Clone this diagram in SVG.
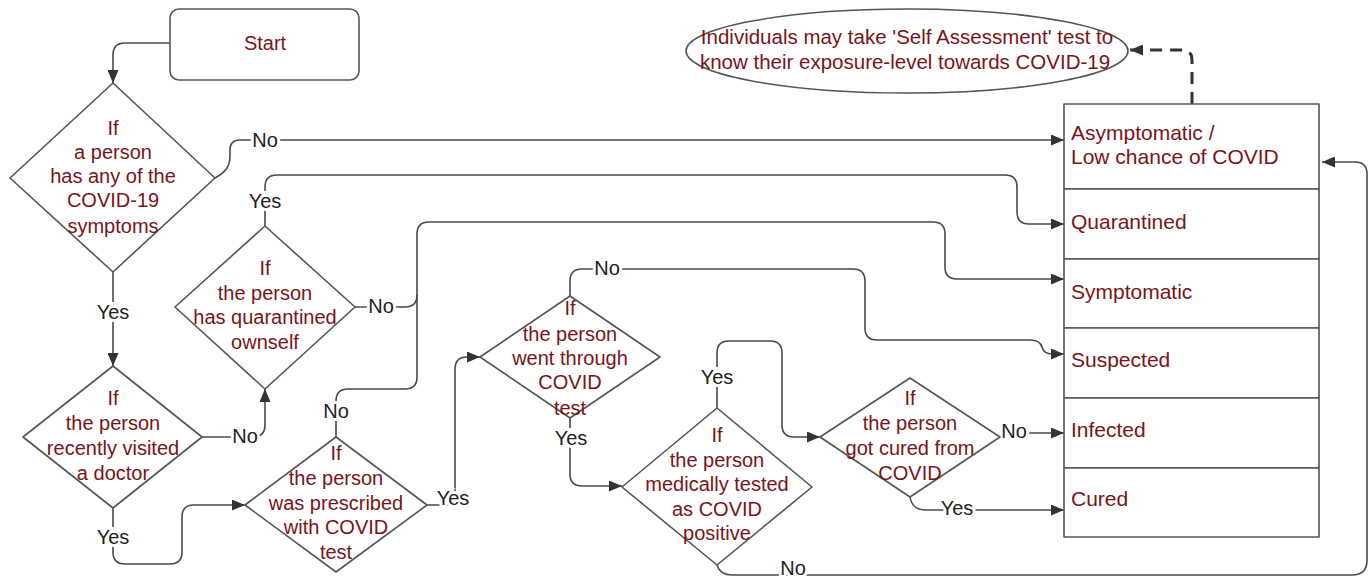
<svg xmlns="http://www.w3.org/2000/svg" width="1372" height="579" viewBox="0 0 1372 579">
<style>
.bg{fill:#fff}
.shape{fill:#fff;stroke:#555;stroke-width:1.6;stroke-linejoin:round}
.t{font-family:"Liberation Sans",Arial,sans-serif;font-size:20px;fill:#7a1418;text-anchor:middle}
.tl{font-family:"Liberation Sans",Arial,sans-serif;font-size:21px;fill:#7a1418}
.te{font-family:"Liberation Sans",Arial,sans-serif;font-size:20.5px;fill:#7a1418;text-anchor:middle}
.c{fill:none;stroke:#4a4a4a;stroke-width:1.6}
.d{fill:none;stroke:#333;stroke-width:3;stroke-dasharray:12 8}
.lbl{font-family:"Liberation Sans",Arial,sans-serif;font-size:20px;fill:#222;text-anchor:middle;stroke:#fff;stroke-width:6;paint-order:stroke}
</style>
<defs>
<marker id="ah" markerUnits="userSpaceOnUse" markerWidth="13" markerHeight="11" refX="13" refY="5.5" orient="auto">
<path d="M0,0 L13,5.5 L0,11 z" fill="#333"/>
</marker>
</defs>
<rect class="bg" x="0" y="0" width="1372" height="579"/>

<g id="connectors">
<path class="c" marker-end="url(#ah)" d="M170,43 L125,43 Q113,43 113,55 L113,83"/>
<path class="c" marker-end="url(#ah)" d="M215,178 C226,172 230,166 230,156 L230,150 Q230,140 240,140 L1064,140"/>
<path class="c" marker-end="url(#ah)" d="M265,226 L265,187 Q265,175 277,175 L1005,175 Q1017,175 1017,187 L1017,212 Q1017,224 1029,224 L1064,224"/>
<path class="c" d="M355,307 L405,307 Q417,307 417,295"/>
<path class="c" marker-end="url(#ah)" d="M336,437 L336,401 Q336,389 348,389 L405,389 Q417,389 417,377 L417,234 Q417,222 429,222 L933,222 Q945,222 945,234 L945,267 Q945,279 957,279 L1064,279"/>
<path class="c" marker-end="url(#ah)" d="M202,437 L253,437 Q265,437 265,425 L265,389"/>
<path class="c" marker-end="url(#ah)" d="M113,272 L113,366"/>
<path class="c" marker-end="url(#ah)" d="M113,508 L113,552 Q113,564 125,564 L170,564 Q182,564 182,552 L182,517 Q182,505 194,505 L245,505"/>
<path class="c" marker-end="url(#ah)" d="M427,505 L455,505 L455,369 Q455,357 467,357 L480,357"/>
<path class="c" marker-end="url(#ah)" d="M570,296 L570,281 Q570,269 582,269 L853,269 Q865,269 865,281 L865,328 Q865,340 877,340 L1030,340 Q1040,340 1042,347 Q1044,354 1052,354 L1064,354"/>
<path class="c" marker-end="url(#ah)" d="M570,418 L570,474 Q570,486 582,486 L622,486"/>
<path class="c" marker-end="url(#ah)" d="M717,408 L717,353 Q717,341 729,341 L770,341 Q782,341 782,353 L782,425 Q782,437 794,437 L820,437"/>
<path class="c" marker-end="url(#ah)" d="M1000,437 Q1005,433 1012,433 L1064,433"/>
<path class="c" marker-end="url(#ah)" d="M910,497 Q912,510 926,510 L1064,510"/>
<path class="c" marker-end="url(#ah)" d="M717,565 Q720,575 732,575 L1352,575 Q1367,575 1367,560 L1367,174 Q1367,162 1355,162 L1322,162"/>
<path class="d" marker-end="url(#ah)" d="M1192,104 L1192,60 Q1192,50 1182,50 L1130,50"/>
<text class="lbl" x="265" y="147">No</text>
<text class="lbl" x="265" y="208">Yes</text>
<text class="lbl" x="381" y="313">No</text>
<text class="lbl" x="336" y="418">No</text>
<text class="lbl" x="245" y="443">No</text>
<text class="lbl" x="113" y="319">Yes</text>
<text class="lbl" x="113" y="544">Yes</text>
<text class="lbl" x="453" y="505">Yes</text>
<text class="lbl" x="607" y="275">No</text>
<text class="lbl" x="571" y="445">Yes</text>
<text class="lbl" x="717" y="384">Yes</text>
<text class="lbl" x="1014" y="438">No</text>
<text class="lbl" x="957" y="515">Yes</text>
<text class="lbl" x="793" y="575">No</text>
</g>

<g id="start">
<rect class="shape" x="170" y="9" width="189" height="71" rx="9"/>
<text class="t" x="265" y="50">Start</text>
</g>

<g id="self-assessment">
<ellipse class="shape" cx="907" cy="51" rx="221" ry="42"/>
<text class="te" x="907" y="44">Individuals may take 'Self Assessment' test to</text>
<text class="te" x="905" y="69">know their exposure-level towards COVID-19</text>
</g>

<g id="d-symptoms">
<polygon class="shape" points="113,83 215,178 113,272 10,178"/>
<text class="t" x="113" y="135">If</text>
<text class="t" x="113" y="159">a person</text>
<text class="t" x="113" y="183">has any of the</text>
<text class="t" x="113" y="207">COVID-19</text>
<text class="t" x="113" y="233">symptoms</text>
</g>

<g id="d-quarantined">
<polygon class="shape" points="265,226 355,307 265,389 175,307"/>
<text class="t" x="265" y="275">If</text>
<text class="t" x="265" y="300">the person</text>
<text class="t" x="265" y="324">has quarantined</text>
<text class="t" x="265" y="349">ownself</text>
</g>

<g id="d-doctor">
<polygon class="shape" points="113,366 202,437 113,508 23,437"/>
<text class="t" x="113" y="405">If</text>
<text class="t" x="113" y="430">the person</text>
<text class="t" x="113" y="455">recently visited</text>
<text class="t" x="113" y="480">a doctor</text>
</g>

<g id="d-prescribed">
<polygon class="shape" points="336,437 427,505 336,572 245,505"/>
<text class="t" x="336" y="460">If</text>
<text class="t" x="336" y="485">the person</text>
<text class="t" x="336" y="510">was prescribed</text>
<text class="t" x="336" y="534">with COVID</text>
<text class="t" x="336" y="559">test</text>
</g>

<g id="d-test">
<polygon class="shape" points="570,296 660,357 570,418 480,357"/>
<text class="t" x="570" y="315">If</text>
<text class="t" x="570" y="341">the person</text>
<text class="t" x="570" y="365">went through</text>
<text class="t" x="570" y="389">COVID</text>
<text class="t" x="570" y="415">test</text>
</g>

<g id="d-positive">
<polygon class="shape" points="717,408 812,487 717,565 622,487"/>
<text class="t" x="717" y="442">If</text>
<text class="t" x="717" y="467">the person</text>
<text class="t" x="717" y="491">medically tested</text>
<text class="t" x="717" y="516">as COVID</text>
<text class="t" x="717" y="540">positive</text>
</g>

<g id="d-cured">
<polygon class="shape" points="910,378 1000,437 910,497 820,437"/>
<text class="t" x="910" y="405">If</text>
<text class="t" x="910" y="430">the person</text>
<text class="t" x="910" y="455">got cured from</text>
<text class="t" x="910" y="480">COVID</text>
</g>

<g id="states">
<g id="s-asymptomatic">
<rect class="shape" x="1064" y="104" width="255" height="85"/>
<text class="tl" x="1071" y="140">Asymptomatic /</text>
<text class="tl" x="1071" y="164">Low chance of COVID</text>
</g>
<g id="s-quarantined">
<rect class="shape" x="1064" y="189" width="255" height="70"/>
<text class="tl" x="1071" y="229">Quarantined</text>
</g>
<g id="s-symptomatic">
<rect class="shape" x="1064" y="259" width="255" height="69"/>
<text class="tl" x="1071" y="299">Symptomatic</text>
</g>
<g id="s-suspected">
<rect class="shape" x="1064" y="328" width="255" height="70"/>
<text class="tl" x="1071" y="367">Suspected</text>
</g>
<g id="s-infected">
<rect class="shape" x="1064" y="398" width="255" height="70"/>
<text class="tl" x="1071" y="437">Infected</text>
</g>
<g id="s-cured">
<rect class="shape" x="1064" y="468" width="255" height="69"/>
<text class="tl" x="1071" y="506">Cured</text>
</g>
</g>
</svg>
